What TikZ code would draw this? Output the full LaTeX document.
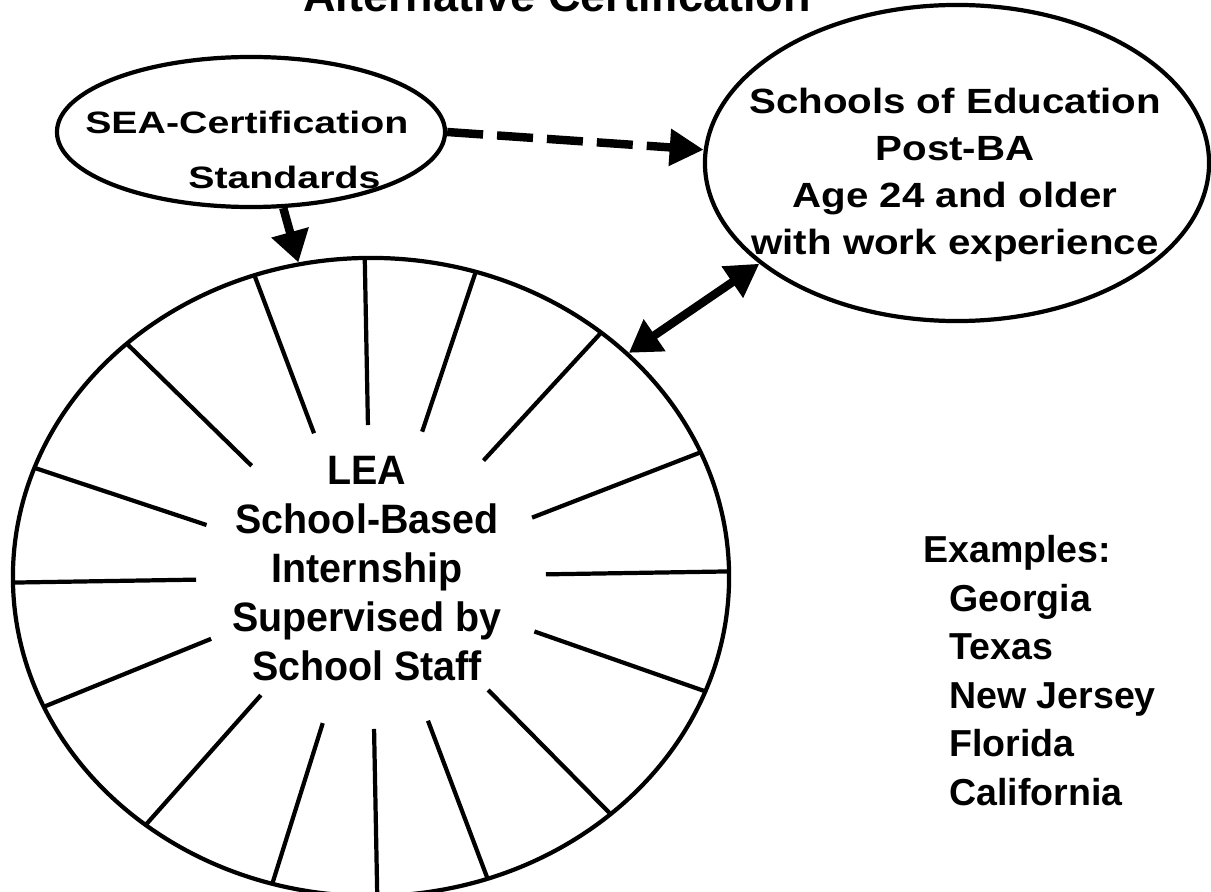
\documentclass[tikz,border=0pt]{standalone}
\usepackage{fontspec}
\setmainfont{Liberation Sans}
\newfontfamily\seafont[FakeStretch=1.27]{Liberation Sans}
\newfontfamily\schoolfont[FakeStretch=1.15]{Liberation Sans}
\newfontfamily\leafont[FakeStretch=0.96]{Liberation Sans}
\usepackage{tikz}
\usetikzlibrary{arrows.meta, shapes.geometric, calc}

\begin{document}
\begin{tikzpicture}[x=0.025cm, y=-0.025cm,
    oval/.style={draw=black, ellipse, line width=3pt, inner sep=0pt},
    bigtip/.style={-{Triangle[length=0.78cm, width=0.92cm]}, line width=6pt},
    label text/.style={inner sep=0pt}]
    \useasboundingbox (0,0) rectangle (1211,892);
    \clip (0,0) rectangle (1211,892);
    % Heading, running off the top edge
    \node[label text, anchor=base, font=\fontsize{32}{38}\selectfont\bfseries] (title) at (557,12) {Alternative Certification};
    % SEA oval
    \node[oval, minimum width=9.7cm, minimum height=3.75cm] (sea) at (251,132) {};
    \node[label text, anchor=north west, align=left, font={\fontsize{22}{39.1}\seafont\bfseries}] (seatext) at (85,111)
        {SEA-Certification\\\hspace*{2.575cm}Standards};
    % Schools of education oval
    \node[oval, minimum width=12.6cm, minimum height=7.9cm] (schools) at (957,163) {};
    \node[label text, anchor=north, align=center, font={\fontsize{24.9}{33.4}\schoolfont\bfseries}] (schooltext) at (955,88)
        {Schools of Education\\Post-BA\\Age 24 and older\\with work experience};
    % LEA wheel with its spokes
    \node[oval, minimum width=17.9cm, minimum height=15.95cm] (lea) at (371,577) {};
    \foreach \a in {1,23,50,73,91,109,133,160,181,204,231,254,271,289,312,339}
        \draw[line width=3pt] ($(lea.center)+({175*cos(\a)},{-152*sin(\a)})$) -- ($(lea.center)+({358*cos(\a)},{-319*sin(\a)})$);
    \node[label text, anchor=north, align=center, font={\fontsize{29.2}{34.9}\leafont\bfseries}] (leatext) at (367,456)
        {LEA\\School-Based\\Internship\\Supervised by\\School Staff};
    % Links
    \draw[bigtip] (sea.-67) -- (lea.103);
    \draw[line width=6pt, dash pattern=on 0.9cm off 0.35cm, -{Triangle[length=0.85cm, width=0.88cm]}] (sea.east) -- (schools.177);
    \draw[line width=6pt, {Triangle[length=0.78cm, width=0.92cm]}-{Triangle[length=0.82cm, width=0.9cm]}] (lea.41) -- (schools.207);
    % Example states
    \node[label text, anchor=north west, align=left, font=\fontsize{26.7}{34.5}\selectfont\bfseries] (examples) at (923,535)
        {Examples:\\\hspace*{0.65cm}Georgia\\\hspace*{0.65cm}Texas\\\hspace*{0.65cm}New Jersey\\\hspace*{0.65cm}Florida\\\hspace*{0.65cm}California};
\end{tikzpicture}
\end{document}
